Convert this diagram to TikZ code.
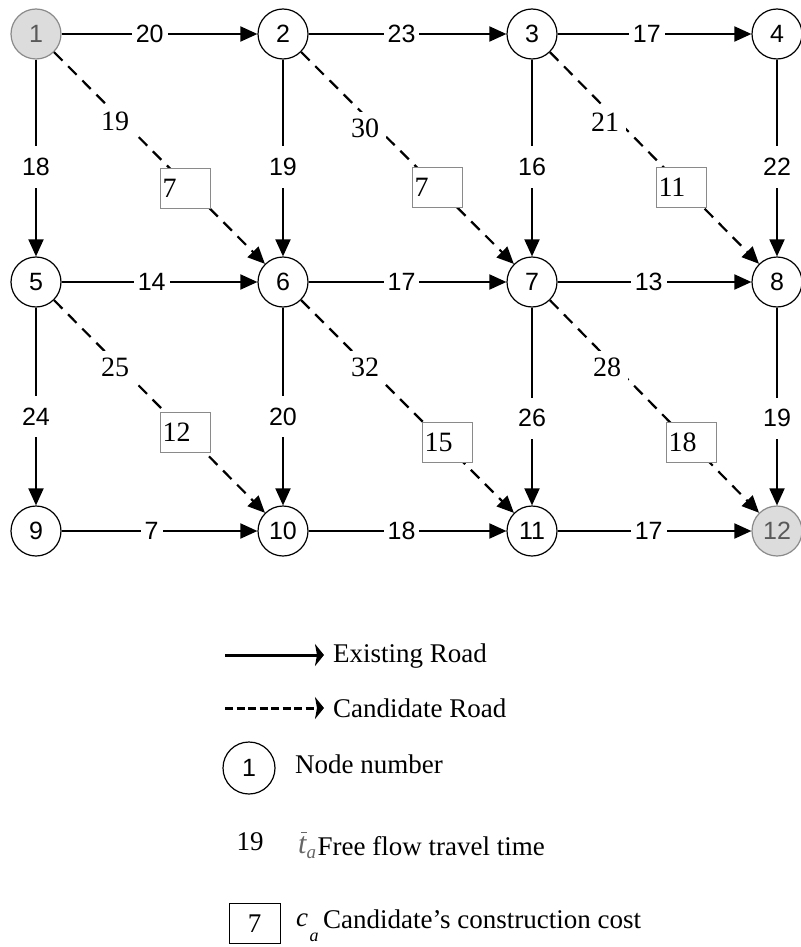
\documentclass[tikz,border=0pt]{standalone}
\usepackage{fontspec}
\setmainfont{Liberation Serif}
\newfontfamily\lsans{Liberation Sans}
\usetikzlibrary{arrows.meta}
\definecolor{nodefill}{HTML}{DCDCDC}
\definecolor{nodeline}{HTML}{8A8A8A}
\begin{document}
\begin{tikzpicture}[x=1pt,y=-1pt,
  vtx/.style={circle,draw,line width=1.2pt,minimum size=50pt,inner sep=0pt,font=\lsans\fontsize{25}{25}\selectfont},
  endvtx/.style={vtx,fill=nodefill,draw=nodeline,text=black!65},
  road/.style={line width=1.9pt,-{Triangle[length=17pt,width=15pt]}},
  cand/.style={road,line width=2.2pt,dash pattern=on 12pt off 8pt},
  lab/.style={fill=white,inner xsep=4pt,inner ysep=12pt,font=\lsans\fontsize{25}{25}\selectfont},
  tlab/.style={fill=white,inner sep=7pt,font=\fontsize{28}{28}\selectfont},
  cost/.style={draw=nodeline,line width=0.8pt,fill=white,minimum height=40pt,text width=45pt,inner xsep=2.5pt,inner ysep=0pt,align=left,font=\fontsize{28}{28}\selectfont},
  legtext/.style={anchor=base west,inner sep=0pt,font=\fontsize{27}{27}\selectfont},
]
\useasboundingbox (0,0) rectangle (800,947);

% vertices
\node[endvtx] (n1) at (36,34) {1};
\node[vtx] (n2) at (283,34) {2};
\node[vtx] (n3) at (532,34) {3};
\node[vtx] (n4) at (777,34) {4};
\node[vtx] (n5) at (36,282) {5};
\node[vtx] (n6) at (283,282) {6};
\node[vtx] (n7) at (532,282) {7};
\node[vtx] (n8) at (777,282) {8};
\node[vtx] (n9) at (36,531) {9};
\node[vtx] (n10) at (283,531) {10};
\node[vtx] (n11) at (532,531) {11};
\node[endvtx] (n12) at (777,531) {12};

% existing roads: horizontal
\draw[road] (n1) -- node[lab,pos=.45] {20} (n2);
\draw[road] (n2) -- node[lab,pos=.47] {23} (n3);
\draw[road] (n3) -- node[lab,pos=.46] {17} (n4);
\draw[road] (n5) -- node[lab,pos=.46] {14} (n6);
\draw[road] (n6) -- node[lab,pos=.47] {17} (n7);
\draw[road] (n7) -- node[lab,pos=.47] {13} (n8);
\draw[road] (n9) -- node[lab,pos=.46] {7} (n10);
\draw[road] (n10) -- node[lab,pos=.47] {18} (n11);
\draw[road] (n11) -- node[lab,pos=.47] {17} (n12);
% existing roads: vertical
\draw[road] (n1) -- node[lab,pos=.545] {18} (n5);
\draw[road] (n2) -- node[lab,pos=.545] {19} (n6);
\draw[road] (n3) -- node[lab,pos=.545] {16} (n7);
\draw[road] (n4) -- node[lab,pos=.545] {22} (n8);
\draw[road] (n5) -- node[lab,pos=.55] {24} (n9);
\draw[road] (n6) -- node[lab,pos=.55] {20} (n10);
\draw[road] (n7) -- node[lab,pos=.56] {26} (n11);
\draw[road] (n8) -- node[lab,pos=.56] {19} (n12);

% candidate roads
\draw[cand] (n1) -- (n6);
\draw[cand] (n2) -- (n7);
\draw[cand] (n3) -- (n8);
\draw[cand] (n5) -- (n10);
\draw[cand] (n6) -- (n11);
\draw[cand] (n7) -- (n12);

% construction costs
\node[cost] (c16) at (185,188) {7};
\node[cost] (c27) at (437,187) {7};
\node[cost] (c38) at (681,187) {11};
\node[cost] (c510) at (185,432) {12};
\node[cost] (c611) at (447,442) {15};
\node[cost] (c712) at (691,442) {18};

% free flow travel times of candidates
\node[tlab] (t16) at (115,121) {19};
\node[tlab] (t27) at (365,128) {30};
\node[tlab] (t38) at (605,122) {21};
\node[tlab] (t510) at (115,367) {25};
\node[tlab] (t611) at (365,367) {32};
\node[tlab] (t712) at (607,367) {28};

% legend
\coordinate (le1) at (225,655);
\coordinate (le2) at (324,655);
\coordinate (lc1) at (225,708);
\coordinate (lc2) at (324,708);
\draw[line width=3pt,-{Stealth[length=9pt,width=22pt,inset=2pt]}] (le1) -- (le2);
\draw[line width=3pt,dash pattern=on 8pt off 3.5pt,-{Stealth[length=9pt,width=22pt,inset=2pt]}] (lc1) -- (lc2);
\node[legtext] (lt1) at (333,662) {Existing Road};
\node[legtext] (lt2) at (333,717) {Candidate Road};
\node[vtx,minimum size=52pt] (ln) at (249,768) {1};
\node[legtext] (lt3) at (295,773) {Node number};
\node[anchor=base,inner sep=0pt,font=\fontsize{27}{27}\selectfont] (l19) at (250,850) {19};
\node[anchor=base west,inner sep=0pt,text=black!60,font=\fontsize{30}{30}\itshape] (ltt) at (298,853) {t};
\node[anchor=base west,inner sep=0pt,text=black!60,font=\fontsize{19}{19}\itshape] (lta) at (306.5,858) {a};
\draw[black!60,line width=1pt] (301,832) -- (307,832);
\node[legtext] (lt4) at (317.5,855) {Free flow travel time};
\node[draw,line width=0.9pt,minimum width=51pt,minimum height=40pt,inner sep=0pt,font=\fontsize{27}{27}\selectfont] (lbox) at (254.5,923.5) {7};
\node[anchor=base west,inner sep=0pt,font=\fontsize{27}{27}\itshape] (lc) at (296,926) {c};
\node[anchor=base west,inner sep=0pt,font=\fontsize{18}{18}\itshape] (lca) at (309.5,941) {a};
\node[legtext] (lt5) at (323,928) {Candidate’s construction cost};
\end{tikzpicture}
\end{document}
